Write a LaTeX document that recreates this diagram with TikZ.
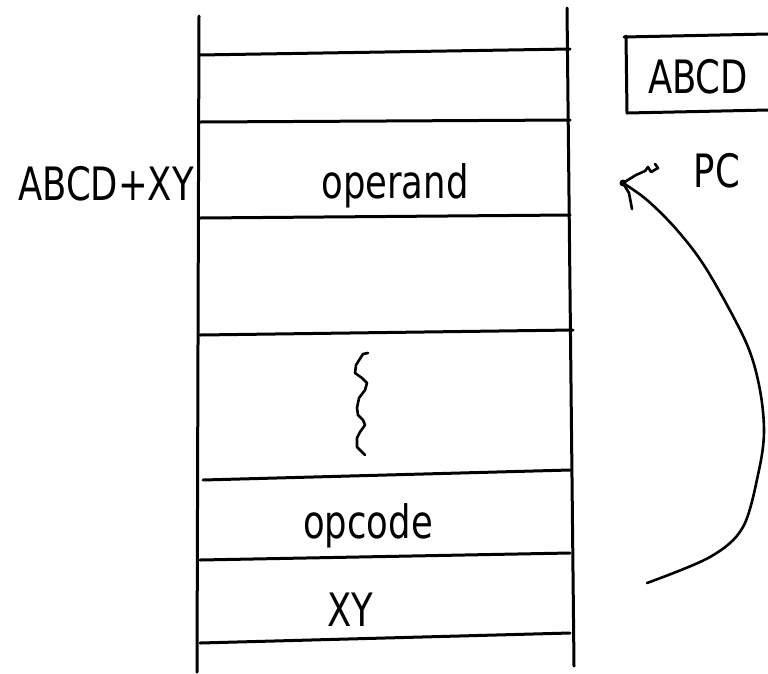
\documentclass[tikz,border=0pt]{standalone}
\usepackage{fontspec}
\setmainfont{DejaVu Sans}
\usepackage{graphicx}
\begin{document}
\begin{tikzpicture}[x=1pt,y=-1pt,
  ln/.style={line width=3pt,line cap=round,line join=round},
  hand/.style={line width=2.6pt,line cap=round,line join=round},
  lbl/.style={inner sep=0pt,anchor=base,font=\fontsize{46}{55}\selectfont}]
\useasboundingbox (0,0) rectangle (768,673);
% memory column
\draw[ln] (199,16) -- (197,672);
\draw[ln] (567,8) -- (574,666);
\draw[ln] (199,55) -- (570,49);
\draw[ln] (200,122) -- (570,120);
\draw[ln] (200,218) -- (570,215);
\draw[ln] (200,335) -- (573,330);
\draw[ln] (203,480) -- (570,470);
\draw[ln] (200,560) -- (570,553);
\draw[ln] (200,643) -- (570,633);
% labels
\node[lbl] (addr) at (106,200) {\scalebox{0.77}[1]{ABCD+XY}};
\node[lbl] (operand) at (395,198) {\scalebox{0.77}[1]{operand}};
\node[lbl] (opcode) at (368,538) {\scalebox{0.77}[1]{opcode}};
\node[lbl] (xy) at (350,626) {\scalebox{0.77}[1]{XY}};
\node[lbl] (pc) at (717,187) {\scalebox{0.77}[1]{PC}};
\node[lbl] (abcd) at (698,93) {\scalebox{0.77}[1]{ABCD}};
% PC register box
\draw[ln] (624,37) -- (768,34);
\draw[ln] (626,36) -- (627,113) -- (768,110);
% squiggle
\draw[hand] (368,353) -- (363,354) -- (356,365) -- (355,373) -- (362,378) -- (367,383) -- (365,390) -- (359,398) -- (357,408) -- (358,415) -- (363,420) -- (365,425) -- (360,432) -- (357,438) -- (357,447) -- (365,455);
% curved arrow
\coordinate (tip) at (623,183);
\coordinate (tail) at (647,583);
\draw[hand] plot[smooth,tension=0.55] coordinates {(tail) (710,557) (743,527) (759,470) (764,430) (759,385) (745,340) (707,270) (677,230) (647,200) (tip)};
\draw[hand] (tip) -- (636,175) -- (645,171) -- (648,167) -- (651,172) -- (658,168) -- (655,164);
\draw[hand] (tip) -- (629,193) -- (632,209);
\fill (tip) circle (3.5pt);
\end{tikzpicture}
\end{document}
